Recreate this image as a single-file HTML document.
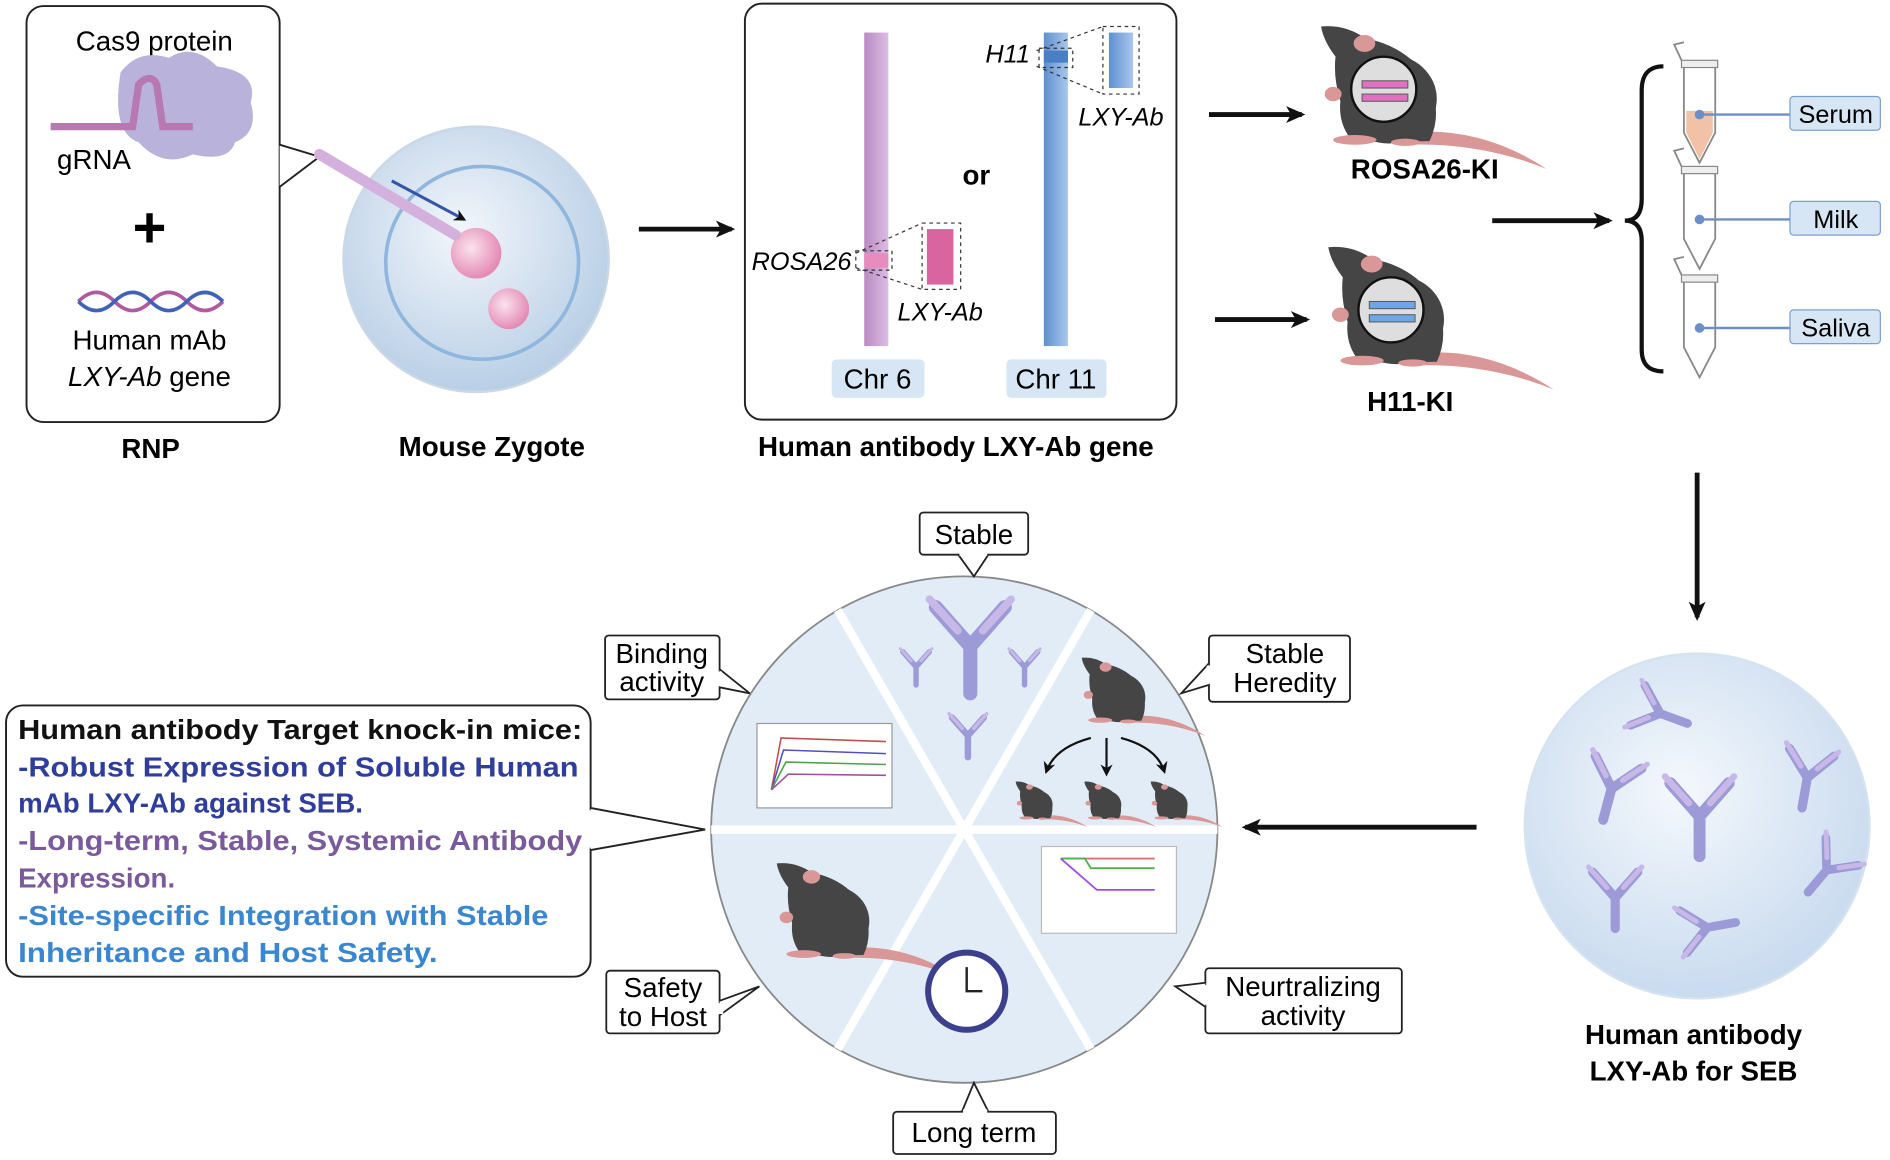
<!DOCTYPE html>
<html><head><meta charset="utf-8"><style>
html,body{margin:0;padding:0;background:#fff;}
svg{display:block;}
text{font-family:"Liberation Sans",Arial,sans-serif;}
</style></head><body>
<svg width="1890" height="1160" viewBox="0 0 1568 962" preserveAspectRatio="none" xmlns="http://www.w3.org/2000/svg">
<defs>
<marker id="ah" markerWidth="16" markerHeight="14" refX="13" refY="7" orient="auto" markerUnits="userSpaceOnUse"><path d="M0,0 L16,7 L0,14 L4,7 z" fill="#111"/></marker>
<marker id="as" markerWidth="10" markerHeight="10" refX="8" refY="5" orient="auto" markerUnits="userSpaceOnUse"><path d="M0,0 L10,5 L0,10 L3,5 z" fill="#111"/></marker>
<radialGradient id="zg" cx="45%" cy="40%" r="60%"><stop offset="0" stop-color="#f2f6fb"/><stop offset="1" stop-color="#b9cfe6"/></radialGradient>
<radialGradient id="sg" cx="45%" cy="40%" r="60%"><stop offset="0" stop-color="#f4f8fc"/><stop offset="1" stop-color="#c9dbef"/></radialGradient>
<radialGradient id="pk" cx="40%" cy="40%" r="60%"><stop offset="0" stop-color="#fbe3ee"/><stop offset="1" stop-color="#e48bb4"/></radialGradient>
<linearGradient id="pb" x1="0" x2="1"><stop offset="0" stop-color="#b98bc3"/><stop offset="1" stop-color="#dcbde2"/></linearGradient>
<linearGradient id="bb" x1="0" x2="1"><stop offset="0" stop-color="#5f8fd0"/><stop offset="1" stop-color="#a9c7ec"/></linearGradient>
<g id="mbody">
 <path d="M80,98 Q140,92 195,128 Q140,106 80,108 Z" fill="#d99797"/>
 <path d="M8,10 Q28,8 45,20 Q75,25 95,50 Q110,80 98,105 L35,106 Q22,92 24,72 Q18,52 20,35 Q10,22 8,10 Z" fill="#454545"/>
 <ellipse cx="64" cy="70" rx="40" ry="37" fill="#454545"/>
 <ellipse cx="44" cy="24" rx="9" ry="7" fill="#d99797"/>
 <ellipse cx="18" cy="66" rx="7" ry="6" fill="#d99797"/>
 <ellipse cx="36" cy="104" rx="18" ry="4" fill="#d99797"/>
 <ellipse cx="78" cy="106" rx="12" ry="3" fill="#d99797"/>
</g>
<g id="mouse"><use href="#mbody"/><circle cx="60" cy="62" r="27" fill="#dedede" stroke="#111" stroke-width="2"/></g>
<g id="ab">
 <path d="M0,0 L0,-30 M0,-30 L-22,-55 M0,-30 L22,-55" stroke="#9d9ad8" stroke-width="9" stroke-linecap="round" fill="none"/>
 <path d="M-8,-40 L-26,-60 M8,-40 L26,-60" stroke="#c8b8e8" stroke-width="5" stroke-linecap="round" fill="none"/>
</g>
<g id="tube">
 <path d="M0,0 L26,0 L26,55 L13,80 L0,55 Z" fill="#fff" stroke="#888" stroke-width="1.5"/>
 <rect x="-2" y="-5" width="30" height="6" fill="#eee" stroke="#888"/>
 <path d="M-2,-5 L-8,-18 L0,-20" fill="none" stroke="#888" stroke-width="1.5"/>
</g>
</defs>

<!-- RNP box -->
<rect x="22" y="5" width="210" height="345" rx="14" fill="#fff" stroke="#222" stroke-width="1.6"/>
<path d="M232,120 L265,130 L232,155" fill="#fff" stroke="#222" stroke-width="1.6"/>
<text x="128" y="42" font-size="23" text-anchor="middle">Cas9 protein</text>
<path d="M100,60 Q115,40 140,48 Q160,35 180,55 Q215,60 208,85 Q215,110 195,118 Q190,135 160,128 Q135,140 115,118 Q92,110 100,60 Z" fill="#b9b3dc"/>
<path d="M42,105 L110,105 L115,70 Q125,60 130,70 L135,105 L160,105" fill="none" stroke="#b879b2" stroke-width="6"/>
<text x="78" y="140" font-size="23" text-anchor="middle">gRNA</text>
<text x="124" y="205" font-size="48" text-anchor="middle" font-weight="bold">+</text>
<path d="M65,250 Q80,235 95,250 T125,250 T155,250 T185,250" fill="none" stroke="#b05aa0" stroke-width="3"/>
<path d="M65,250 Q80,265 95,250 T125,250 T155,250 T185,250" fill="none" stroke="#3f63b8" stroke-width="3"/>
<text x="124" y="290" font-size="23" text-anchor="middle">Human mAb</text>
<text x="124" y="320" font-size="23" text-anchor="middle"><tspan font-style="italic">LXY-Ab</tspan> gene</text>
<text x="125" y="380" font-size="23" text-anchor="middle" font-weight="bold">RNP</text>

<!-- zygote -->
<circle cx="395" cy="215" r="110" fill="url(#zg)" stroke="#c9d7e6" stroke-width="2"/>
<circle cx="400" cy="218" r="80" fill="none" stroke="#8fb6dd" stroke-width="3"/>
<circle cx="395" cy="210" r="21" fill="url(#pk)"/>
<circle cx="422" cy="256" r="17" fill="url(#pk)"/>
<path d="M265,128 L378,195" stroke="#d4b0dc" stroke-width="9" stroke-linecap="round"/>
<path d="M325,150 L385,182" stroke="#3455a8" stroke-width="2.5" marker-end="url(#as)"/>
<text x="408" y="378" font-size="23" text-anchor="middle" font-weight="bold">Mouse Zygote</text>

<line x1="530" y1="190" x2="607" y2="190" stroke="#111" stroke-width="4" marker-end="url(#ah)"/>

<!-- gene box -->
<rect x="618" y="3" width="358" height="345" rx="14" fill="#fff" stroke="#222" stroke-width="1.6"/>
<rect x="717" y="27" width="20" height="260" fill="url(#pb)"/>
<rect x="717" y="210" width="20" height="12" fill="#e88bbd"/>
<rect x="866" y="27" width="20" height="260" fill="url(#bb)"/>
<rect x="866" y="42" width="20" height="10" fill="#4a7fc5"/>
<path d="M710,210 L765,185 M710,222 L765,240 M860,42 L915,22 M860,55 L915,78" stroke="#333" stroke-dasharray="3,3" fill="none"/>
<rect x="710" y="208" width="30" height="16" fill="none" stroke="#333" stroke-dasharray="3,3"/>
<rect x="862" y="40" width="28" height="16" fill="none" stroke="#333" stroke-dasharray="3,3"/>
<rect x="765" y="185" width="32" height="55" fill="none" stroke="#333" stroke-dasharray="3,3"/>
<rect x="769" y="190" width="22" height="46" fill="#d865a0"/>
<rect x="915" y="22" width="30" height="56" fill="none" stroke="#333" stroke-dasharray="3,3"/>
<rect x="920" y="27" width="20" height="46" fill="url(#bb)"/>
<text x="810" y="153" font-size="23" text-anchor="middle" font-weight="bold">or</text>
<text x="665" y="224" font-size="21" text-anchor="middle" font-style="italic">ROSA26</text>
<text x="780" y="266" font-size="21" text-anchor="middle" font-style="italic">LXY-Ab</text>
<text x="836" y="52" font-size="21" text-anchor="middle" font-style="italic">H11</text>
<text x="930" y="104" font-size="21" text-anchor="middle" font-style="italic">LXY-Ab</text>
<rect x="690" y="298" width="77" height="32" rx="4" fill="#d6e6f5"/>
<text x="728" y="322" font-size="23" text-anchor="middle">Chr 6</text>
<rect x="835" y="298" width="83" height="32" rx="4" fill="#d6e6f5"/>
<text x="876" y="322" font-size="23" text-anchor="middle">Chr 11</text>
<text x="793" y="378" font-size="23" text-anchor="middle" font-weight="bold">Human antibody LXY-Ab gene</text>

<line x1="1003" y1="95" x2="1080" y2="95" stroke="#111" stroke-width="4" marker-end="url(#ah)"/>
<line x1="1008" y1="265" x2="1084" y2="265" stroke="#111" stroke-width="4" marker-end="url(#ah)"/>

<!-- mice -->
<use href="#mouse" x="1088" y="12"/>
<rect x="1130" y="67" width="38" height="6" fill="#e070c0" stroke="#555" stroke-width="0.8"/>
<rect x="1130" y="78" width="38" height="6" fill="#e070c0" stroke="#555" stroke-width="0.8"/>
<text x="1182" y="148" font-size="23" text-anchor="middle" font-weight="bold">ROSA26-KI</text>
<use href="#mouse" x="1094" y="195"/>
<rect x="1136" y="250" width="38" height="6" fill="#6fa6e6" stroke="#555" stroke-width="0.8"/>
<rect x="1136" y="261" width="38" height="6" fill="#6fa6e6" stroke="#555" stroke-width="0.8"/>
<text x="1170" y="341" font-size="23" text-anchor="middle" font-weight="bold">H11-KI</text>

<line x1="1238" y1="183" x2="1335" y2="183" stroke="#111" stroke-width="4" marker-end="url(#ah)"/>
<path d="M1380,55 Q1362,55 1362,75 L1362,165 Q1362,183 1348,183 Q1362,183 1362,200 L1362,290 Q1362,308 1380,308" fill="none" stroke="#111" stroke-width="3.5"/>

<use href="#tube" x="1397" y="55"/>
<path d="M1399,92 L1421,92 L1421,110 L1410,132 L1399,110 Z" fill="#f2c2a6"/>
<use href="#tube" x="1397" y="143"/>
<use href="#tube" x="1397" y="233"/>
<g stroke="#6d8fc8" stroke-width="2"><line x1="1410" y1="95" x2="1485" y2="95"/><line x1="1410" y1="182" x2="1485" y2="182"/><line x1="1410" y1="272" x2="1485" y2="272"/></g>
<g fill="#6d8fc8"><circle cx="1410" cy="95" r="4"/><circle cx="1410" cy="182" r="4"/><circle cx="1410" cy="272" r="4"/></g>
<g fill="#d6e6f5" stroke="#7aa0cf"><rect x="1485" y="80" width="75" height="28" rx="3"/><rect x="1485" y="167" width="75" height="28" rx="3"/><rect x="1485" y="257" width="75" height="28" rx="3"/></g>
<text x="1523" y="102" font-size="21" text-anchor="middle">Serum</text>
<text x="1523" y="189" font-size="21" text-anchor="middle">Milk</text>
<text x="1523" y="279" font-size="21" text-anchor="middle">Saliva</text>

<line x1="1408" y1="392" x2="1408" y2="512" stroke="#111" stroke-width="4" marker-end="url(#ah)"/>

<!-- sphere -->
<circle cx="1408" cy="685" r="143" fill="url(#sg)" stroke="#d5e2f0" stroke-width="2"/>
<use href="#ab" transform="translate(1410,710) scale(1.1)"/>
<use href="#ab" transform="translate(1400,600) rotate(-70) scale(0.8)"/>
<use href="#ab" transform="translate(1330,680) rotate(15) scale(0.9)"/>
<use href="#ab" transform="translate(1495,670) rotate(10) scale(0.85)"/>
<use href="#ab" transform="translate(1340,770) scale(0.85)"/>
<use href="#ab" transform="translate(1500,740) rotate(40) scale(0.8)"/>
<use href="#ab" transform="translate(1440,765) rotate(-100) scale(0.8)"/>
<text x="1405" y="866" font-size="23" text-anchor="middle" font-weight="bold">Human antibody</text>
<text x="1405" y="896" font-size="23" text-anchor="middle" font-weight="bold">LXY-Ab for SEB</text>

<line x1="1225" y1="686" x2="1033" y2="686" stroke="#111" stroke-width="4" marker-end="url(#ah)"/>

<!-- wheel -->
<circle cx="800" cy="688" r="210" fill="#e2ecf6" stroke="#888" stroke-width="1.5"/>
<g stroke="#fff" stroke-width="7">
<line x1="590" y1="688" x2="1010" y2="688"/>
<line x1="695" y1="506" x2="905" y2="870"/>
<line x1="905" y1="506" x2="695" y2="870"/>
</g>
<use href="#ab" transform="translate(805,575) scale(1.3)"/>
<use href="#ab" transform="translate(760,568) scale(0.5)"/>
<use href="#ab" transform="translate(850,568) scale(0.5)"/>
<use href="#ab" transform="translate(803,628) scale(0.6)"/>
<use href="#mbody" transform="translate(893,540) scale(0.55)"/>
<use href="#mbody" transform="translate(840,645) scale(0.32)"/>
<use href="#mbody" transform="translate(897,645) scale(0.32)"/>
<use href="#mbody" transform="translate(952,645) scale(0.32)"/>
<g stroke="#111" stroke-width="1.8" fill="none"><path d="M905,612 Q875,620 868,640" marker-end="url(#as)"/><line x1="918" y1="612" x2="918" y2="642" marker-end="url(#as)"/><path d="M930,612 Q960,620 966,640" marker-end="url(#as)"/></g>
<rect x="628" y="600" width="112" height="70" fill="#fff" stroke="#999"/>
<g fill="none" stroke-width="1.3"><path d="M640,655 L648,612 L735,615" stroke="#c05050"/><path d="M640,655 L650,622 L735,625" stroke="#5050c0"/><path d="M640,655 L652,632 L735,634" stroke="#50a050"/><path d="M640,655 L654,642 L735,643" stroke="#a050a0"/></g>
<rect x="864" y="702" width="112" height="72" fill="#fff" stroke="#bbb"/>
<g fill="none" stroke-width="1.5"><path d="M880,712 L958,712" stroke="#e07070"/><path d="M880,712 L900,712 L905,720 L958,720" stroke="#50b050"/><path d="M880,712 L895,725 L910,738 L958,738" stroke="#a050e0"/></g>
<use href="#mbody" transform="translate(638,708) scale(0.8)"/>
<circle cx="802" cy="822" r="32" fill="#fff" stroke="#3b3f8c" stroke-width="5"/>
<path d="M802,802 L802,822 L815,822" stroke="#222" stroke-width="2" fill="none"/>

<!-- callout labels -->
<g fill="#fff" stroke="#222" stroke-width="1.5">
<rect x="763" y="425" width="90" height="35" rx="3"/>
<rect x="502" y="527" width="95" height="53" rx="3"/>
<rect x="1003" y="527" width="117" height="55" rx="3"/>
<rect x="1000" y="803" width="163" height="54" rx="3"/>
<rect x="503" y="805" width="94" height="52" rx="3"/>
<rect x="741" y="922" width="135" height="35" rx="3"/>
</g>
<g fill="#fff" stroke="#222" stroke-width="1.5">
<path d="M795,460 L808,478 L820,460"/>
<path d="M597,555 L622,575 L597,570"/>
<path d="M1003,550 L980,575 L1003,568"/>
<path d="M1000,815 L975,818 L1000,835"/>
<path d="M597,830 L630,818 L597,842"/>
<path d="M798,922 L808,898 L820,922"/>
</g>
<g fill="#fff"><rect x="796" y="456" width="23" height="5"/><rect x="594" y="557" width="5" height="12"/><rect x="1001" y="552" width="5" height="15"/><rect x="998" y="817" width="5" height="16"/><rect x="595" y="832" width="5" height="9"/><rect x="799" y="920" width="20" height="4"/></g>
<g font-size="23" text-anchor="middle">
<text x="808" y="451">Stable</text>
<text x="549" y="550">Binding</text><text x="549" y="573">activity</text>
<text x="1066" y="550">Stable</text><text x="1066" y="574">Heredity</text>
<text x="1081" y="826">Neurtralizing</text><text x="1081" y="850">activity</text>
<text x="550" y="827">Safety</text><text x="550" y="851">to Host</text>
<text x="808" y="947">Long term</text>
</g>

<!-- left text box -->
<rect x="5" y="585" width="485" height="225" rx="14" fill="#fff" stroke="#222" stroke-width="1.6"/>
<path d="M490,670 L585,688 L490,705" fill="#fff" stroke="#222" stroke-width="1.6"/>
<rect x="486" y="672" width="6" height="31" fill="#fff"/>
<g font-size="23" font-weight="bold">
<text x="15" y="613" fill="#111" textLength="468" lengthAdjust="spacingAndGlyphs">Human antibody Target knock-in mice:</text>
<text x="15" y="644" fill="#2f3d9c" textLength="465" lengthAdjust="spacingAndGlyphs">-Robust Expression of Soluble Human</text>
<text x="15" y="674" fill="#2f3d9c">mAb LXY-Ab against SEB.</text>
<text x="15" y="705" fill="#7a5a9a" textLength="468" lengthAdjust="spacingAndGlyphs">-Long-term, Stable, Systemic Antibody</text>
<text x="15" y="736" fill="#7a5a9a">Expression.</text>
<text x="15" y="767" fill="#3a86d0" textLength="440" lengthAdjust="spacingAndGlyphs">-Site-specific Integration with Stable</text>
<text x="15" y="798" fill="#3a86d0" textLength="348" lengthAdjust="spacingAndGlyphs">Inheritance  and Host Safety.</text>
</g>
</svg>
</body></html>
